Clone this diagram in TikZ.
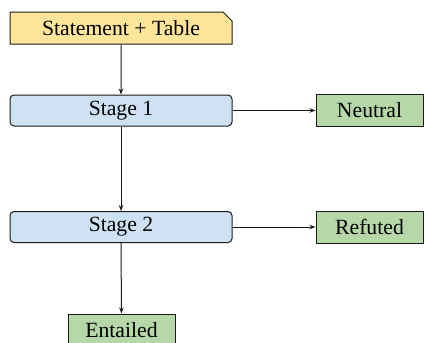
\documentclass[tikz,border=0pt]{standalone}
\usepackage{fontspec}
\setmainfont{Liberation Serif}
\newfontfamily\tnr{Liberation Serif}
\usetikzlibrary{shapes.misc,arrows.meta}
\definecolor{yel}{HTML}{FFE599}
\definecolor{blu}{HTML}{CFE2F3}
\definecolor{grn}{HTML}{B6D7A8}
\definecolor{edge}{HTML}{1A1A1A}
\begin{document}
\begin{tikzpicture}[x=1pt,y=-1pt,
  base/.style={draw=edge,line width=1pt,inner sep=0pt,font=\tnr\fontsize{21.7}{24}\selectfont},
  startbox/.style={base,chamfered rectangle,chamfered rectangle corners=north east,
     chamfered rectangle xsep=4pt,chamfered rectangle ysep=5pt,fill=yel,minimum width=222pt,minimum height=32pt},
  stagebox/.style={base,rectangle,rounded corners=4pt,fill=blu,minimum width=222pt,minimum height=31pt},
  outbox/.style={base,rectangle,fill=grn,minimum width=107pt,minimum height=32pt},
  conn/.style={draw=edge,line width=1pt,-{Stealth[length=6pt,width=4.5pt]}}]
\useasboundingbox (0,0) rectangle (424,343);
\node[startbox] (stmt) at (121,28) {Statement + Table};
\node[stagebox] (s1) at (121,110.5) {Stage 1};
\node[outbox] (neu) at (369.5,110.5) {Neutral};
\node[stagebox] (s2) at (121,227) {Stage 2};
\node[outbox] (ref) at (369.5,227) {Refuted};
\node[outbox] (ent) at (121.5,330) {Entailed};
\draw[conn] (stmt) -- (s1);
\draw[conn] (s1) -- (neu);
\draw[conn] (s1) -- (s2);
\draw[conn] (s2) -- (ref);
\draw[conn] (s2) -- (ent);
\end{tikzpicture}
\end{document}
